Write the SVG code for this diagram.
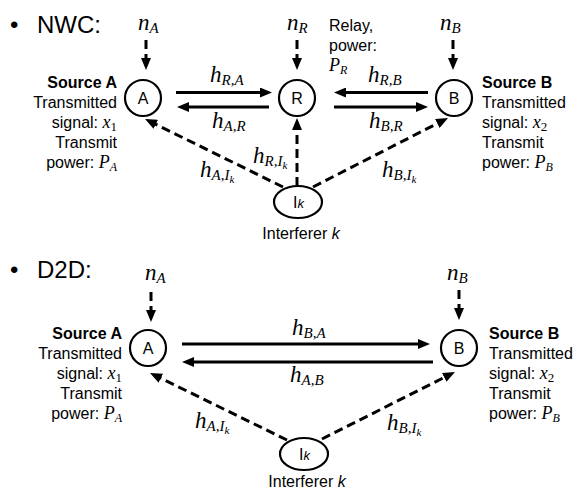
<svg xmlns="http://www.w3.org/2000/svg" width="585" height="492" viewBox="0 0 585 492">
<defs>
<marker id="ah" markerUnits="userSpaceOnUse" markerWidth="12" markerHeight="10" refX="6" refY="5" orient="auto"><path d="M0,0 L12,5 L0,10 z" fill="#000"/></marker>
<style>
.nd{fill:#fff;stroke:#000;stroke-width:2.2}
.t{font-family:"Liberation Sans",Arial,sans-serif;font-size:16px;fill:#000}
.b{font-weight:bold}
.r{text-anchor:end}
.c{text-anchor:middle}
.h{font-family:"Liberation Sans",Arial,sans-serif;font-size:24px;fill:#000}
.m{font-family:"Liberation Serif","Times New Roman",serif;font-style:italic;font-size:23px;fill:#000}
.s{font-size:15px}
.ss{font-size:11px}
.mi{font-family:"Liberation Serif","Times New Roman",serif;font-style:italic}
.up{font-style:normal}
.sl{stroke:#000;stroke-width:3;fill:none;marker-end:url(#ah)}
.dl{stroke:#000;stroke-width:3;fill:none;stroke-dasharray:9 5;marker-end:url(#ah)}
</style>
</defs>
<rect width="585" height="492" fill="#fff"/>

<g id="titles">
<text class="h" x="10" y="33">•</text><text class="h" x="37" y="33">NWC:</text>
<text class="h" x="10" y="278">•</text><text class="h" x="37" y="278">D2D:</text>
</g>

<g id="connectors">
<line class="sl" x1="176" y1="92.5" x2="266" y2="92.5"/>
<line class="sl" x1="269" y1="107" x2="183" y2="107"/>
<line class="sl" x1="428" y1="92.5" x2="340" y2="92.5"/>
<line class="sl" x1="334" y1="107" x2="422" y2="107"/>
<line class="dl" x1="146" y1="40" x2="146" y2="64"/>
<line class="dl" x1="297" y1="40" x2="297" y2="64"/>
<line class="dl" x1="453" y1="40" x2="453" y2="64"/>
<line class="dl" x1="283" y1="187" x2="150.4" y2="121.7"/>
<line class="dl" x1="297" y1="186" x2="297" y2="124"/>
<line class="dl" x1="313" y1="187" x2="442.7" y2="120.7"/>

<line class="sl" x1="182" y1="344" x2="424" y2="344"/>
<line class="sl" x1="433" y1="362" x2="188" y2="362"/>
<line class="dl" x1="151" y1="292" x2="151" y2="316"/>
<line class="dl" x1="459" y1="290" x2="459" y2="314"/>
<line class="dl" x1="287" y1="440" x2="155.4" y2="375.6"/>
<line class="dl" x1="322" y1="439" x2="449.6" y2="374.7"/>
</g>

<g id="nwc-A">
<circle class="nd" cx="143" cy="98" r="18"/>
<text class="t c" x="143" y="104">A</text>
<text class="t b r" x="117" y="88">Source A</text>
<text class="t r" x="117" y="108">Transmitted</text>
<text class="t r" x="117" y="128">signal: <tspan class="mi" font-size="18">x</tspan><tspan class="mi up" font-size="13" dy="3">1</tspan></text>
<text class="t r" x="117" y="148">Transmit</text>
<text class="t r" x="117" y="168">power: <tspan class="mi" font-size="18">P</tspan><tspan class="mi" font-size="12" dy="3">A</tspan></text>
</g>

<g id="nwc-R">
<circle class="nd" cx="297" cy="98" r="18"/>
<text class="t c" x="297" y="104">R</text>
<text class="t" x="329" y="31">Relay,</text>
<text class="t" x="329" y="51">power:</text>
<text class="t" x="329" y="71"><tspan class="mi" font-size="18">P</tspan><tspan class="mi" font-size="12" dy="3">R</tspan></text>
</g>

<g id="nwc-B">
<circle class="nd" cx="454" cy="98" r="18"/>
<text class="t c" x="454" y="104">B</text>
<text class="t b" x="482" y="88">Source B</text>
<text class="t" x="482" y="108">Transmitted</text>
<text class="t" x="482" y="128">signal: <tspan class="mi" font-size="18">x</tspan><tspan class="mi up" font-size="13" dy="3">2</tspan></text>
<text class="t" x="482" y="148">Transmit</text>
<text class="t" x="482" y="168">power: <tspan class="mi" font-size="18">P</tspan><tspan class="mi" font-size="12" dy="3">B</tspan></text>
</g>

<g id="nwc-I">
<ellipse class="nd" cx="298" cy="202" rx="24" ry="16"/>
<text class="t" x="293" y="208">I<tspan font-style="italic" font-size="13">k</tspan></text>
<text class="t c" x="301" y="239">Interferer <tspan font-style="italic">k</tspan></text>
</g>

<g id="nwc-labels">
<text class="m" x="138" y="30">n<tspan class="s" dy="3">A</tspan></text>
<text class="m" x="287" y="30">n<tspan class="s" dy="3">R</tspan></text>
<text class="m" x="440" y="30">n<tspan class="s" dy="3">B</tspan></text>
<text class="m" x="210" y="82">h<tspan class="s" dy="3">R,A</tspan></text>
<text class="m" x="212" y="128">h<tspan class="s" dy="3">A,R</tspan></text>
<text class="m" x="368" y="82">h<tspan class="s" dy="3">R,B</tspan></text>
<text class="m" x="369" y="128">h<tspan class="s" dy="3">B,R</tspan></text>
<text class="m" x="253" y="163">h<tspan class="s" dy="3">R,I</tspan><tspan class="ss" dy="3">k</tspan></text>
<text class="m" x="200" y="177">h<tspan class="s" dy="3">A,I</tspan><tspan class="ss" dy="3">k</tspan></text>
<text class="m" x="382" y="177">h<tspan class="s" dy="3">B,I</tspan><tspan class="ss" dy="3">k</tspan></text>
</g>

<g id="d2d-A">
<circle class="nd" cx="148" cy="348" r="18"/>
<text class="t c" x="148" y="354">A</text>
<text class="t b r" x="122" y="339">Source A</text>
<text class="t r" x="122" y="359">Transmitted</text>
<text class="t r" x="122" y="379">signal: <tspan class="mi" font-size="18">x</tspan><tspan class="mi up" font-size="13" dy="3">1</tspan></text>
<text class="t r" x="122" y="399">Transmit</text>
<text class="t r" x="122" y="419">power: <tspan class="mi" font-size="18">P</tspan><tspan class="mi" font-size="12" dy="3">A</tspan></text>
</g>

<g id="d2d-B">
<circle class="nd" cx="459" cy="348" r="18"/>
<text class="t c" x="459" y="354">B</text>
<text class="t b" x="489" y="339">Source B</text>
<text class="t" x="489" y="359">Transmitted</text>
<text class="t" x="489" y="379">signal: <tspan class="mi" font-size="18">x</tspan><tspan class="mi up" font-size="13" dy="3">2</tspan></text>
<text class="t" x="489" y="399">Transmit</text>
<text class="t" x="489" y="419">power: <tspan class="mi" font-size="18">P</tspan><tspan class="mi" font-size="12" dy="3">B</tspan></text>
</g>

<g id="d2d-I">
<ellipse class="nd" cx="304" cy="454" rx="24" ry="16"/>
<text class="t" x="299" y="460">I<tspan font-style="italic" font-size="13">k</tspan></text>
<text class="t c" x="307" y="487">Interferer <tspan font-style="italic">k</tspan></text>
</g>

<g id="d2d-labels">
<text class="m" x="145" y="280">n<tspan class="s" dy="3">A</tspan></text>
<text class="m" x="447" y="280">n<tspan class="s" dy="3">B</tspan></text>
<text class="m" x="292" y="335">h<tspan class="s" dy="3">B,A</tspan></text>
<text class="m" x="290" y="382">h<tspan class="s" dy="3">A,B</tspan></text>
<text class="m" x="195" y="428">h<tspan class="s" dy="3">A,I</tspan><tspan class="ss" dy="3">k</tspan></text>
<text class="m" x="387" y="430">h<tspan class="s" dy="3">B,I</tspan><tspan class="ss" dy="3">k</tspan></text>
</g>
</svg>
